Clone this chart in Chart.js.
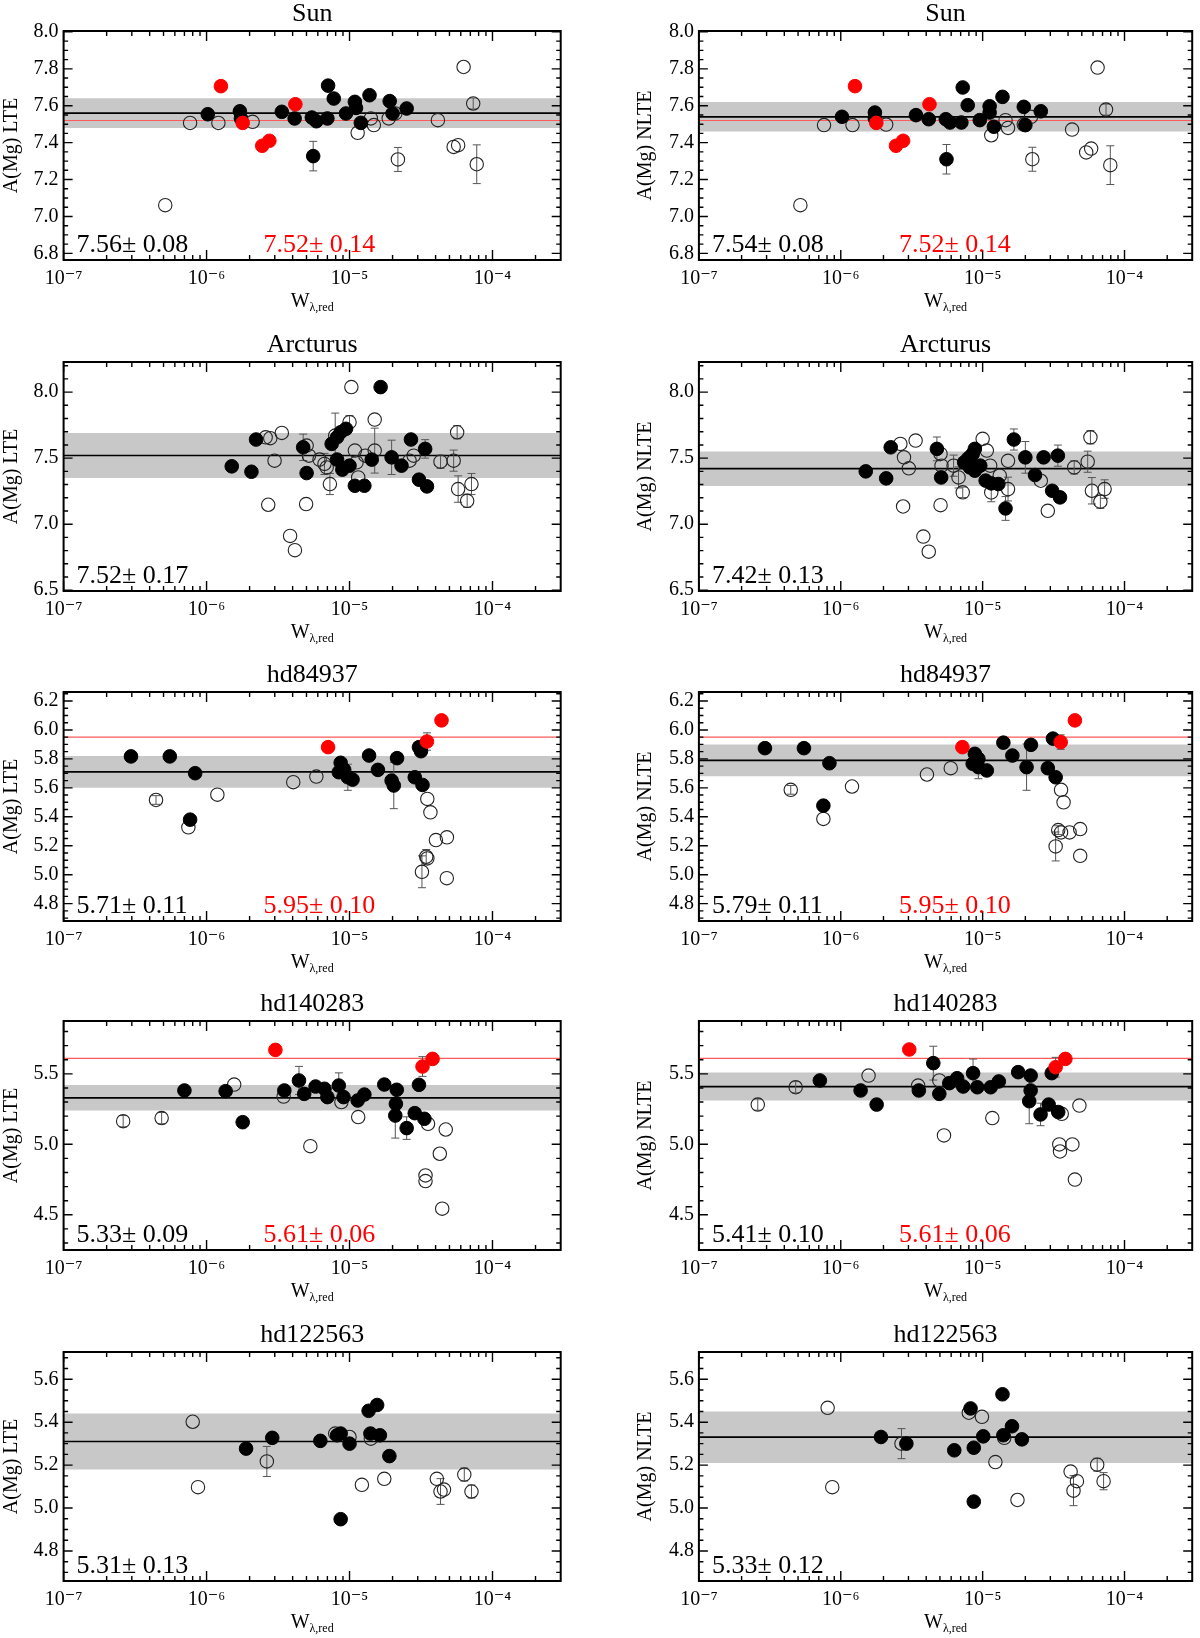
<!DOCTYPE html>
<html>
<head>
<meta charset="utf-8">
<script src="https://cdn.jsdelivr.net/npm/chart.js@4.4.1/dist/chart.umd.min.js"></script>
<style>
  html, body { margin: 0; padding: 0; background: #fff; overflow: hidden; }
  #page { position: relative; width: 1200px; height: 1638px; }
  #page canvas { position: absolute; }
</style>
</head>
<body>
<div id="page"></div>
<script>
// ---- axes shared by all panels ----
const xRange = [1e-7, 3e-4];
const xTicks = [1e-7, 1e-6, 1e-5, 1e-4];

// ---- one row per star ----
const rowTitles = ['Sun', 'Arcturus', 'hd84937', 'hd140283', 'hd122563'];
const rowYMin = [6.764, 6.494, 4.68, 4.25, 4.66];
const rowYMax = [8.005, 8.228, 6.262, 5.875, 5.727];
const rowYTicks = [
  [6.8, 7.0, 7.2, 7.4, 7.6, 7.8, 8.0],
  [6.5, 7.0, 7.5, 8.0],
  [4.8, 5.0, 5.2, 5.4, 5.6, 5.8, 6.0, 6.2],
  [4.5, 5.0, 5.5],
  [4.8, 5.0, 5.2, 5.4, 5.6]
];
const rowYMinor = [0.05, 0.1, 0.05, 0.1, 0.05];

const lteMean = [7.56, 7.52, 5.71, 5.33, 5.31];
const lteSd = [0.08, 0.17, 0.11, 0.09, 0.13];
const nlteMean = [7.54, 7.42, 5.79, 5.41, 5.33];
const nlteSd = [0.08, 0.13, 0.11, 0.10, 0.12];
const redMean = [7.52, null, 5.95, 5.61, null];
const redSd = [0.14, null, 0.10, 0.06, null];

// ---- lines: [W, A(Mg), error] ----
const sunLteBlack = [[1.02e-6,7.554],[1.71e-6,7.570],[1.74e-6,7.531],[3.36e-6,7.567],[4.13e-6,7.531],[5.45e-6,7.536],[5.86e-6,7.516],[7.00e-6,7.531],[7.08e-6,7.709],[7.76e-6,7.639],[9.44e-6,7.558],[1.09e-5,7.621],[1.11e-5,7.588],[1.20e-5,7.507],[1.38e-5,7.657],[1.91e-5,7.625],[2.00e-5,7.558],[2.51e-5,7.585],[5.57e-6,7.327,0.08]];
const sunLteRed = [[1.26e-6,7.706],[1.79e-6,7.507],[2.45e-6,7.383],[2.75e-6,7.410],[4.18e-6,7.608]];
const sunLteOpen = [[5.14e-7,7.061],[7.67e-7,7.507],[1.21e-6,7.507],[2.10e-6,7.513],[1.14e-5,7.453],[1.41e-5,7.531],[1.48e-5,7.495],[1.88e-5,7.531],[2.09e-5,7.558],[2.18e-5,7.309,0.065],[4.15e-5,7.522],[5.35e-5,7.377],[5.75e-5,7.386],[6.28e-5,7.81],[7.33e-5,7.612,0.03],[7.76e-5,7.283,0.105]];

const sunNlteBlack = [[1.02e-6,7.540],[1.74e-6,7.563],[1.74e-6,7.530],[3.39e-6,7.549],[4.17e-6,7.527],[5.50e-6,7.527],[5.89e-6,7.509],[7.08e-6,7.509],[7.24e-6,7.699],[7.85e-6,7.603],[9.55e-6,7.522],[1.12e-5,7.597],[1.12e-5,7.563],[1.20e-5,7.486],[1.38e-5,7.648],[1.95e-5,7.594],[2.00e-5,7.495],[2.57e-5,7.570],[5.56e-6,7.310,0.08]];
const sunNlteRed = [[1.26e-6,7.706],[1.78e-6,7.507],[2.45e-6,7.383],[2.75e-6,7.41],[4.22e-6,7.608]];
const sunNlteOpen = [[5.19e-7,7.061],[7.62e-7,7.495],[1.21e-6,7.495],[2.09e-6,7.498],[1.15e-5,7.44],[1.45e-5,7.522],[1.51e-5,7.48],[1.95e-5,7.498],[2.19e-5,7.54],[2.24e-5,7.31,0.065],[4.27e-5,7.471],[5.37e-5,7.347],[5.82e-5,7.368],[6.46e-5,7.807],[7.41e-5,7.579,0.03],[7.94e-5,7.278,0.105]];

const arcLteBlack = [[1.50e-6,7.438],[2.06e-6,7.397],[2.22e-6,7.641],[4.74e-6,7.582,0.10],[5.01e-6,7.387],[7.50e-6,7.608],[8.18e-6,7.658],[8.67e-6,7.696],[9.44e-6,7.722],[8.18e-6,7.489],[8.91e-6,7.413],[1.00e-5,7.443],[1.09e-5,7.291],[1.27e-5,7.291],[1.43e-5,7.489],[1.65e-5,8.038],[1.97e-5,7.506,0.13],[2.31e-5,7.443],[2.69e-5,7.641],[3.06e-5,7.337],[3.38e-5,7.570,0.07],[3.48e-5,7.286]];
const arcLteOpen = [[2.59e-6,7.658],[2.79e-6,7.651],[3.36e-6,7.691],[2.99e-6,7.481],[2.70e-6,7.147],[3.84e-6,6.911],[4.15e-6,6.803],[4.97e-6,7.152],[5.01e-6,7.595],[5.20e-6,7.519],[6.17e-6,7.489],[6.68e-6,7.456,0.08],[6.92e-6,7.43],[7.29e-6,7.304,0.08],[7.94e-6,7.671,0.17],[1.03e-5,8.038],[1.00e-5,7.772,0.05],[1.09e-5,7.557],[1.12e-5,7.468],[1.15e-5,7.354],[1.29e-5,7.519],[1.50e-5,7.792],[1.50e-5,7.557,0.17],[2.81e-5,7.519],[2.63e-5,7.481],[4.33e-5,7.473,0.05],[5.35e-5,7.481,0.08],[5.66e-5,7.696,0.05],[5.75e-5,7.266,0.10],[6.65e-5,7.177,0.05],[7.13e-5,7.304,0.08]];

const arcNlteBlack = [[1.50e-6,7.40],[2.09e-6,7.347],[2.25e-6,7.582],[4.76e-6,7.57,0.09],[5.10e-6,7.354],[7.41e-6,7.468],[8.08e-6,7.506],[8.51e-6,7.532],[8.81e-6,7.57],[8.13e-6,7.43],[8.81e-6,7.405],[9.62e-6,7.443],[1.05e-5,7.33],[1.15e-5,7.309],[1.29e-5,7.304],[1.45e-5,7.119,0.09],[1.66e-5,7.641,0.08],[2.00e-5,7.506,0.12],[2.34e-5,7.372],[2.69e-5,7.506],[3.39e-5,7.519,0.08],[3.09e-5,7.253],[3.51e-5,7.203]];
const arcNlteOpen = [[2.63e-6,7.608],[2.79e-6,7.506],[3.02e-6,7.423],[3.37e-6,7.633],[2.75e-6,7.134],[3.82e-6,6.906],[4.17e-6,6.792],[5.05e-6,7.144],[5.05e-6,7.532],[5.13e-6,7.443],[6.24e-6,7.443,0.08],[6.76e-6,7.354,0.08],[7.24e-6,7.241,0.04],[7.85e-6,7.494],[1.00e-5,7.646],[1.07e-5,7.557],[1.13e-5,7.443],[1.15e-5,7.24,0.07],[1.32e-5,7.367],[1.51e-5,7.48],[1.51e-5,7.266,0.09],[2.57e-5,7.329],[2.88e-5,7.101],[4.42e-5,7.43,0.05],[5.50e-5,7.473,0.08],[5.75e-5,7.658,0.05],[5.89e-5,7.253,0.10],[6.76e-5,7.17,0.05],[7.24e-5,7.266,0.07]];

const h849LteBlack = [[2.96e-7,5.817],[5.53e-7,5.817],[8.32e-7,5.701],[7.67e-7,5.38],[8.67e-6,5.773],[8.41e-6,5.708],[9.18e-6,5.724],[9.73e-6,5.673,0.09],[1.05e-5,5.657],[1.37e-5,5.823],[1.58e-5,5.724],[1.97e-5,5.65],[2.04e-5,5.616,0.16],[2.15e-5,5.805],[2.86e-5,5.673],[3.06e-5,5.881],[3.16e-5,5.853],[3.24e-5,5.62]];
const h849LteRed = [[7.08e-6,5.881],[3.48e-5,5.92,0.06],[4.40e-5,6.066]];
const h849LteOpen = [[4.43e-7,5.516,0.03],[7.46e-7,5.327],[1.19e-6,5.553],[4.04e-6,5.639],[5.86e-6,5.678],[3.50e-5,5.523],[3.68e-5,5.431],[4.02e-5,5.239],[4.80e-5,5.258],[3.44e-5,5.124,0.05],[3.50e-5,5.112],[3.21e-5,5.02,0.11],[4.79e-5,4.976]];

const h849NlteBlack = [[2.92e-7,5.874],[5.50e-7,5.874],[8.32e-7,5.77],[7.54e-7,5.477],[8.81e-6,5.835],[8.51e-6,5.766],[9.33e-6,5.80],[9.33e-6,5.743,0.08],[1.07e-5,5.72],[1.40e-5,5.912],[1.62e-5,5.823],[2.04e-5,5.743,0.16],[2.19e-5,5.897],[2.88e-5,5.736],[3.13e-5,5.94],[3.27e-5,5.673]];
const h849NlteRed = [[7.20e-6,5.881],[3.55e-5,5.916,0.05],[4.47e-5,6.066]];
const h849NlteOpen = [[4.44e-7,5.586,0.03],[7.54e-7,5.385],[1.20e-6,5.609],[4.05e-6,5.692],[5.96e-6,5.736],[3.57e-5,5.586],[3.72e-5,5.5],[3.41e-5,5.308,0.03],[3.57e-5,5.292],[4.10e-5,5.292],[4.87e-5,5.315],[3.27e-5,5.195,0.10],[4.87e-5,5.13]];

const h140LteBlack = [[7.00e-7,5.382],[1.36e-6,5.377],[1.79e-6,5.157],[3.50e-6,5.382],[4.43e-6,5.453,0.10],[4.82e-6,5.358],[5.79e-6,5.41],[6.68e-6,5.394],[7.00e-6,5.335],[8.41e-6,5.417,0.09],[9.08e-6,5.335],[1.14e-5,5.311],[1.27e-5,5.353],[1.75e-5,5.424],[2.14e-5,5.387],[2.11e-5,5.287],[2.09e-5,5.204,0.16],[2.51e-5,5.115,0.08],[2.86e-5,5.221],[3.06e-5,5.422],[3.34e-5,5.181]];
const h140LteRed = [[3.03e-6,5.67],[3.24e-5,5.552,0.07],[3.81e-5,5.606]];
const h140LteOpen = [[2.61e-7,5.164,0.04],[4.85e-7,5.186,0.04],[1.56e-6,5.424],[3.46e-6,5.339],[5.32e-6,4.987],[8.77e-6,5.30],[1.15e-5,5.193],[3.54e-5,5.145],[4.71e-5,5.105],[4.28e-5,4.933],[3.40e-5,4.779],[3.40e-5,4.739],[4.45e-5,4.543]];

const h140NlteBlack = [[7.12e-7,5.453],[1.38e-6,5.382],[1.79e-6,5.282],[3.55e-6,5.382],[4.49e-6,5.576,0.12],[4.95e-6,5.358],[5.82e-6,5.434],[6.61e-6,5.469],[7.29e-6,5.41],[8.56e-6,5.505,0.10],[9.17e-6,5.405],[1.14e-5,5.405],[1.30e-5,5.446],[1.78e-5,5.512],[2.18e-5,5.488],[2.18e-5,5.382],[2.13e-5,5.306,0.16],[2.56e-5,5.212,0.08],[2.92e-5,5.282],[3.07e-5,5.505],[3.41e-5,5.229]];
const h140NlteRed = [[3.04e-6,5.673],[3.27e-5,5.547,0.07],[3.83e-5,5.606]];
const h140NlteOpen = [[2.60e-7,5.282,0.04],[4.81e-7,5.405,0.04],[1.57e-6,5.488],[3.51e-6,5.417],[4.95e-6,5.453],[5.34e-6,5.063],[1.17e-5,5.186],[3.61e-5,5.216],[4.81e-5,5.275],[3.47e-5,4.999],[3.51e-5,4.949],[4.29e-5,4.999],[4.47e-5,4.75]];

const h122LteBlack = [[1.89e-6,5.277],[2.88e-6,5.327],[6.25e-6,5.313],[8.18e-6,5.339],[8.67e-6,5.347],[1.00e-5,5.30],[8.67e-6,4.948],[1.36e-5,5.453],[1.56e-5,5.48],[1.40e-5,5.347],[1.63e-5,5.339],[1.90e-5,5.242]];
const h122LteOpen = [[8.00e-7,5.402],[8.71e-7,5.097],[2.64e-6,5.217,0.07],[7.94e-6,5.347],[1.00e-5,5.331],[1.22e-5,5.108],[1.41e-5,5.323],[1.75e-5,5.136],[4.08e-5,5.136],[4.33e-5,5.077,0.06],[4.58e-5,5.086],[6.35e-5,5.156,0.03],[7.13e-5,5.077,0.03]];

const h122NlteBlack = [[1.92e-6,5.331],[2.90e-6,5.30],[6.31e-6,5.269],[8.22e-6,5.464],[8.66e-6,5.281],[1.01e-5,5.334],[8.66e-6,5.030],[1.38e-5,5.53],[1.40e-5,5.339],[1.61e-5,5.381],[1.89e-5,5.32]];
const h122NlteOpen = [[8.08e-7,5.467],[8.71e-7,5.097],[2.68e-6,5.30,0.07],[7.99e-6,5.444],[9.89e-6,5.425],[1.23e-5,5.214],[1.42e-5,5.327],[1.76e-5,5.0375],[4.17e-5,5.17],[4.37e-5,5.081,0.07],[4.62e-5,5.125],[6.42e-5,5.202,0.03],[7.12e-5,5.125,0.04]];

const lteBlack = [sunLteBlack, arcLteBlack, h849LteBlack, h140LteBlack, h122LteBlack];
const lteRed = [sunLteRed, [], h849LteRed, h140LteRed, []];
const lteOpen = [sunLteOpen, arcLteOpen, h849LteOpen, h140LteOpen, h122LteOpen];
const nlteBlack = [sunNlteBlack, arcNlteBlack, h849NlteBlack, h140NlteBlack, h122NlteBlack];
const nlteRed = [sunNlteRed, [], h849NlteRed, h140NlteRed, []];
const nlteOpen = [sunNlteOpen, arcNlteOpen, h849NlteOpen, h140NlteOpen, h122NlteOpen];

// ---- page layout ----
const FONT = "'Liberation Serif', 'DejaVu Serif', serif";
const rowTop = [0, 331, 661, 990, 1321];
const SUP = { '-': '\u207B', '0': '\u2070', '1': '\u00B9', '2': '\u00B2', '3': '\u00B3', '4': '\u2074', '5': '\u2075', '6': '\u2076', '7': '\u2077', '8': '\u2078', '9': '\u2079' };

const fmtPow = v => '10' + String(Math.round(Math.log10(v))).split('').map(c => SUP[c]).join('');
const toPts = arr => arr.map(([x, y, e]) => ({ x, y, e: e || 0 }));
const hline = y => [{ x: xRange[0], y }, { x: xRange[1], y }];

function makeDecor(p) {
  return {
    id: 'decor',
    beforeDatasetDraw(chart, args) {
      if (chart.data.datasets[args.index].kind !== 'open') return;
      const { ctx, scales: { x, y } } = chart;
      ctx.save();
      ctx.strokeStyle = '#555';
      ctx.lineWidth = 1;
      ctx.beginPath();
      chart.data.datasets.forEach(ds => {
        if (!ds.kind) return;
        ds.data.forEach(d => {
          if (!d.e) return;
          const px = x.getPixelForValue(d.x);
          const y1 = y.getPixelForValue(d.y - d.e), y2 = y.getPixelForValue(d.y + d.e);
          ctx.moveTo(px, y1); ctx.lineTo(px, y2);
          ctx.moveTo(px - 4, y1); ctx.lineTo(px + 4, y1);
          ctx.moveTo(px - 4, y2); ctx.lineTo(px + 4, y2);
        });
      });
      ctx.stroke();
      ctx.restore();
    },
    afterDraw(chart) {
      const { ctx, chartArea: a, scales: { x, y } } = chart;
      ctx.save();
      // inward ticks
      ctx.strokeStyle = '#000';
      ctx.lineWidth = 1.4;
      ctx.beginPath();
      for (let n = -7; n <= -4; n++) {
        for (let m = 1; m <= 9; m++) {
          const v = m * Math.pow(10, n);
          if (v > xRange[1]) continue;
          const px = x.getPixelForValue(v);
          const len = m === 1 ? 10 : 5;
          ctx.moveTo(px, a.bottom); ctx.lineTo(px, a.bottom - len);
          ctx.moveTo(px, a.top); ctx.lineTo(px, a.top + len);
        }
      }
      const k0 = Math.ceil(y.min / p.yMinor - 1e-6), k1 = Math.floor(y.max / p.yMinor + 1e-6);
      for (let k = k0; k <= k1; k++) {
        const v = k * p.yMinor;
        const major = p.yTicks.some(t => Math.abs(t - v) < 1e-6);
        const py = y.getPixelForValue(v);
        const len = major ? 9 : 4.5;
        ctx.moveTo(a.left, py); ctx.lineTo(a.left + len, py);
        ctx.moveTo(a.right, py); ctx.lineTo(a.right - len, py);
      }
      ctx.stroke();
      // frame
      ctx.lineWidth = 2;
      ctx.strokeRect(a.left, a.top, a.right - a.left, a.bottom - a.top);

      const cx = (a.left + a.right) / 2;
      ctx.fillStyle = '#000';
      // title
      ctx.font = '26px ' + FONT;
      ctx.textAlign = 'center';
      ctx.textBaseline = 'alphabetic';
      ctx.fillText(p.title, cx, a.top - 10.5);
      // x axis title with subscript
      ctx.font = '20px ' + FONT;
      const wW = ctx.measureText('W').width;
      ctx.font = '12px ' + FONT;
      const wS = ctx.measureText('\u03BB,red').width;
      const x0 = cx - (wW + wS) / 2;
      ctx.textAlign = 'left';
      ctx.font = '20px ' + FONT;
      ctx.fillText('W', x0, a.bottom + 47);
      ctx.font = '12px ' + FONT;
      ctx.fillText('\u03BB,red', x0 + wW, a.bottom + 51);
      // mean values
      ctx.font = '26px ' + FONT;
      ctx.fillText(p.mean.toFixed(2) + '\u00B1 ' + p.sd.toFixed(2), a.left + 13, a.bottom - 8);
      if (p.redMean !== null) {
        ctx.fillStyle = '#ff0000';
        ctx.fillText(p.redMean.toFixed(2) + '\u00B1 ' + p.redSd.toFixed(2), a.left + 200, a.bottom - 8);
      }
      ctx.restore();
    }
  };
}

function makePanel(r, side) {
  const nlte = side === 1;
  const p = {
    title: rowTitles[r],
    yTicks: rowYTicks[r],
    yMinor: rowYMinor[r],
    mean: nlte ? nlteMean[r] : lteMean[r],
    sd: nlte ? nlteSd[r] : lteSd[r],
    redMean: redMean[r],
    redSd: redSd[r]
  };
  const canvas = document.createElement('canvas');
  canvas.width = 600; canvas.height = 330;
  canvas.style.left = (side * 600) + 'px';
  canvas.style.top = rowTop[r] + 'px';
  canvas.style.width = '600px'; canvas.style.height = '330px';
  document.getElementById('page').appendChild(canvas);

  const datasets = [
    { type: 'line', data: hline(p.mean + p.sd), showLine: true, fill: '+1', backgroundColor: '#c8c8c8', borderWidth: 0, borderColor: 'rgba(0,0,0,0)', pointRadius: 0, order: 6 },
    { type: 'line', data: hline(p.mean - p.sd), showLine: true, fill: false, borderWidth: 0, borderColor: 'rgba(0,0,0,0)', pointRadius: 0, order: 6 }
  ];
  if (p.redMean !== null) {
    datasets.push({ type: 'line', data: hline(p.redMean), showLine: true, fill: false, borderColor: '#ff5a5a', borderWidth: 1.2, pointRadius: 0, order: 5 });
  }
  datasets.push(
    { type: 'line', data: hline(p.mean), showLine: true, fill: false, borderColor: '#000', borderWidth: 1.7, pointRadius: 0, order: 4 },
    { kind: 'open', data: toPts((nlte ? nlteOpen : lteOpen)[r]), pointRadius: 6.7, pointBorderWidth: 1.1, pointBorderColor: '#222', pointBackgroundColor: 'rgba(0,0,0,0)', order: 3 },
    { kind: 'black', data: toPts((nlte ? nlteBlack : lteBlack)[r]), pointRadius: 6.8, pointBorderWidth: 1, pointBorderColor: '#000', pointBackgroundColor: '#000', order: 2 },
    { kind: 'red', data: toPts((nlte ? nlteRed : lteRed)[r]), pointRadius: 6.8, pointBorderWidth: 1, pointBorderColor: '#ff0000', pointBackgroundColor: '#ff0000', order: 1 }
  );

  const tickFont = { family: FONT, size: 20 };
  new Chart(canvas, {
    type: 'scatter',
    data: { datasets },
    options: {
      responsive: false,
      animation: false,
      events: [],
      layout: { padding: { left: nlte ? 34 : 0, right: nlte ? 4 : 39.3, top: 31, bottom: 30 } },
      plugins: { legend: { display: false }, tooltip: { enabled: false } },
      scales: {
        x: {
          type: 'logarithmic', min: xRange[0], max: xRange[1],
          grid: { display: false, drawTicks: false }, border: { display: false },
          afterBuildTicks: s => { s.ticks = xTicks.map(v => ({ value: v })); },
          afterFit: s => { s.height = 40; },
          ticks: { callback: v => fmtPow(v), font: tickFont, color: '#000', padding: 7, maxRotation: 0, autoSkip: false }
        },
        y: {
          type: 'linear', min: rowYMin[r], max: rowYMax[r],
          grid: { display: false, drawTicks: false }, border: { display: false },
          afterBuildTicks: s => { s.ticks = p.yTicks.map(v => ({ value: v })); },
          afterFit: s => { s.width = nlte ? 64.9 : 63.6; },
          ticks: { callback: v => v.toFixed(1), font: tickFont, color: '#000', padding: 5 },
          title: { display: true, text: nlte ? 'A(Mg) NLTE' : 'A(Mg) LTE', font: { family: FONT, size: 20 }, color: '#000', padding: 0 }
        }
      }
    },
    plugins: [makeDecor(p)]
  });
}

for (let r = 0; r < 5; r++) {
  makePanel(r, 0);
  makePanel(r, 1);
}
</script>
</body>
</html>
